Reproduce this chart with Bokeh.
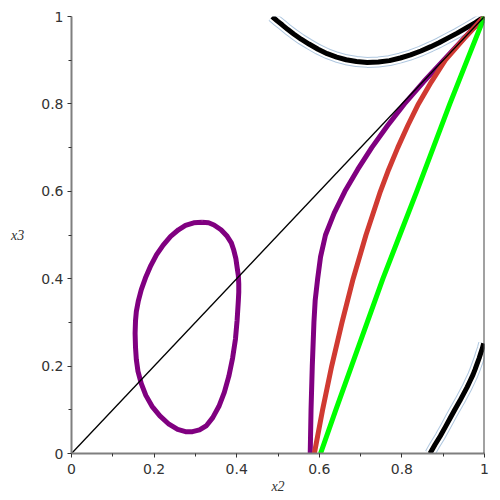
from bokeh.plotting import figure
from bokeh.models import FixedTicker, Span, Range1d
from bokeh.embed import file_html
from bokeh.resources import INLINE

# ---- data ----
diag_x = [0.0, 1.0]
diag_y = [0.0, 1.0]

loop_x = [0.316, 0.332, 0.345, 0.362, 0.377, 0.387, 0.393, 0.398, 0.401, 0.404, 0.405, 0.405,
          0.404, 0.401, 0.397, 0.390, 0.381, 0.370, 0.357, 0.342, 0.327, 0.310, 0.293, 0.276,
          0.257, 0.236, 0.214, 0.195, 0.180, 0.169, 0.161, 0.157, 0.155, 0.154, 0.155, 0.157,
          0.162, 0.169, 0.180, 0.192, 0.206, 0.222, 0.240, 0.259, 0.276, 0.296, 0.316]
loop_y = [0.529, 0.528, 0.523, 0.512, 0.497, 0.482, 0.465, 0.446, 0.426, 0.407, 0.388, 0.369,
          0.350, 0.305, 0.262, 0.218, 0.177, 0.140, 0.108, 0.082, 0.064, 0.054, 0.050, 0.050,
          0.055, 0.067, 0.086, 0.108, 0.133, 0.160, 0.188, 0.215, 0.243, 0.275, 0.304, 0.325,
          0.350, 0.375, 0.404, 0.430, 0.455, 0.477, 0.497, 0.512, 0.522, 0.528, 0.529]

purple_x = [0.578, 0.580, 0.583, 0.587, 0.590, 0.596, 0.603, 0.615, 0.636, 0.662, 0.693,
            0.727, 0.765, 0.806, 0.852, 0.901, 0.950, 1.0]
purple_y = [0.0, 0.1, 0.2, 0.3, 0.35, 0.4, 0.45, 0.5, 0.55, 0.6, 0.65,
            0.7, 0.75, 0.8, 0.85, 0.9, 0.95, 1.0]

red_x = [0.588, 0.608, 0.630, 0.655, 0.682, 0.713, 0.748, 0.768, 0.790, 0.814, 0.840,
         0.871, 0.905, 0.951, 1.0]
red_y = [0.0, 0.1, 0.2, 0.3, 0.4, 0.5, 0.6, 0.65, 0.7, 0.75, 0.8,
         0.85, 0.9, 0.95, 1.0]

green_x = [0.603, 0.640, 0.678, 0.716, 0.754, 0.795, 0.836, 0.876, 0.916, 0.958, 1.0]
green_y = [0.0, 0.1, 0.2, 0.3, 0.4, 0.5, 0.6, 0.7, 0.8, 0.9, 1.0]

arc_top_x = [0.486, 0.498, 0.510, 0.524, 0.538, 0.556, 0.575, 0.597, 0.619, 0.642, 0.665,
             0.690, 0.716, 0.743, 0.770, 0.796, 0.821, 0.846, 0.870, 0.890, 0.910, 0.934,
             0.958, 0.978, 0.997]
arc_top_y = [1.0, 0.990, 0.981, 0.970, 0.960, 0.948, 0.937, 0.925, 0.915, 0.907, 0.901,
             0.897, 0.895, 0.896, 0.899, 0.905, 0.912, 0.921, 0.931, 0.940, 0.950, 0.962,
             0.975, 0.986, 0.998]

arc_bot_x = [0.868, 0.880, 0.893, 0.906, 0.918, 0.929, 0.940, 0.949, 0.958, 0.965, 0.972,
             0.977, 0.982, 0.987, 0.991, 0.995, 0.998]
arc_bot_y = [0.0, 0.020, 0.040, 0.062, 0.083, 0.102, 0.120, 0.136, 0.152, 0.166, 0.180,
             0.192, 0.205, 0.218, 0.230, 0.241, 0.252]

major_ticks = [0, 0.2, 0.4, 0.6, 0.8, 1]
minor_ticks = [0.1, 0.3, 0.5, 0.7, 0.9]
tick_labels = ["0", "0.2", "0.4", "0.6", "0.8", "1"]
x_label = "x2"
y_label = "x3"

# ---- figure ----
p = figure(width=500, height=500, output_backend="svg", toolbar_location=None,
           x_range=Range1d(0, 1), y_range=Range1d(0, 1),
           min_border_left=71, min_border_right=16, min_border_top=16, min_border_bottom=47)
p.grid.visible = False
p.outline_line_color = None
p.background_fill_color = "white"
p.border_fill_color = "white"

overrides = {t: l for t, l in zip(major_ticks, tick_labels)}
for ax in (p.xaxis[0], p.yaxis[0]):
    ax.ticker = FixedTicker(ticks=major_ticks, minor_ticks=minor_ticks)
    ax.major_label_overrides = overrides
    ax.axis_line_color = "#7f7f7f"
    ax.axis_line_width = 2
    ax.major_tick_line_color = "#333333"
    ax.minor_tick_line_color = "#333333"
    ax.major_tick_in = 0
    ax.major_tick_out = 4
    ax.minor_tick_in = 0
    ax.minor_tick_out = 3
    ax.major_label_text_font = "DejaVu Sans"
    ax.major_label_text_font_size = "14px"
    ax.major_label_text_color = "#333333"
    ax.axis_label_text_font = "Liberation Serif"
    ax.axis_label_text_font_style = "italic"
    ax.axis_label_text_font_size = "14px"
    ax.axis_label_text_color = "#333333"
p.yaxis[0].major_label_standoff = 4
p.xaxis[0].major_label_standoff = 6

p.xaxis[0].axis_label = x_label
p.xaxis[0].axis_label_standoff = 2
p.yaxis[0].axis_label = y_label
p.yaxis[0].axis_label_standoff = 14
try:
    p.yaxis[0].axis_label_orientation = "horizontal"
except Exception:
    pass

p.add_layout(Span(location=1, dimension="height", line_color="#444444", line_width=2))

# outlined black arcs
for ax_, ay_ in ((arc_top_x, arc_top_y), (arc_bot_x, arc_bot_y)):
    p.line(ax_, ay_, line_color="#b0c8e0", line_width=11, line_join="round")
    p.line(ax_, ay_, line_color="white", line_width=9, line_join="round")
    p.line(ax_, ay_, line_color="black", line_width=5, line_join="round")

p.line(loop_x, loop_y, line_color="#800080", line_width=5, line_join="round")
p.line(purple_x, purple_y, line_color="#800080", line_width=5, line_join="round")
p.line(red_x, red_y, line_color="#d03a32", line_width=5, line_join="round")
p.line(green_x, green_y, line_color="#00ff00", line_width=5, line_join="round")
p.line(diag_x, diag_y, line_color="black", line_width=1.3)

open("out.html", "w").write(file_html(p, INLINE))
